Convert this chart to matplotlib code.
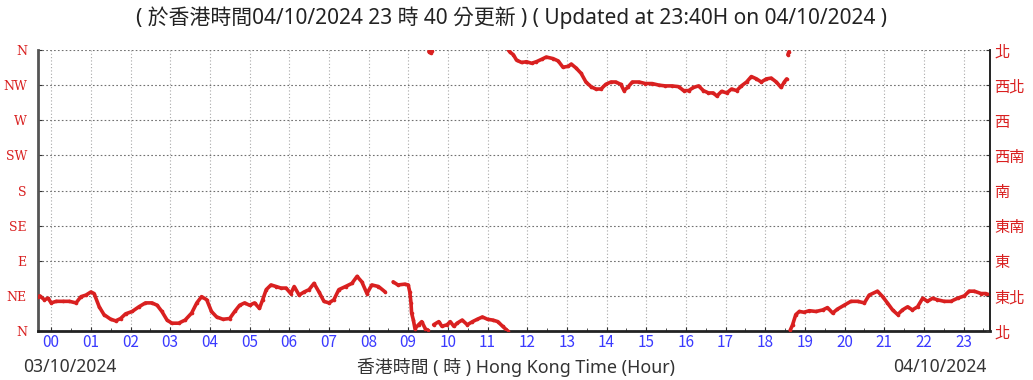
import numpy as np
import matplotlib.pyplot as plt

plt.rcParams['font.family'] = ['Noto Sans', 'Noto Sans CJK TC', 'DejaVu Sans']

# wind direction (deg), time in hours from 00:00 04/10/2024
hours_night = [-0.33, -0.29, -0.17, -0.08, 0.0, 0.125, 0.29, 0.46, 0.625, 0.75,
               0.875, 1.0, 1.08, 1.21, 1.33, 1.5, 1.625, 1.75, 1.875, 2.04,
               2.21, 2.375, 2.54, 2.67, 2.79, 2.92, 3.04, 3.21, 3.375, 3.54,
               3.67, 3.79, 3.92, 4.04, 4.17, 4.33, 4.5, 4.625, 4.75, 4.875,
               5.0, 5.125, 5.25, 5.33, 5.42, 5.54, 5.67, 5.79, 5.92, 6.04,
               6.125, 6.25, 6.375, 6.5, 6.625, 6.75, 6.875, 7.0, 7.125, 7.25,
               7.42, 7.58, 7.71, 7.83, 7.96, 8.08, 8.25, 8.42, 8.5]
dir_night = [44, 45, 40, 42, 36, 38, 38, 38, 36, 44,
             46, 50, 48, 31, 21, 15, 13, 16, 22, 25,
             31, 36, 36, 33, 25, 14, 10, 10, 14, 23,
             36, 44, 40, 25, 18, 15, 16, 25, 33, 36,
             33, 36, 29, 40, 53, 59, 57, 55, 55, 48,
             57, 46, 50, 53, 61, 50, 38, 36, 40, 53,
             57, 61, 70, 63, 48, 59, 57, 50, np.nan]

hours_morning = [8.62, 8.74, 8.91, 9.0, 9.04, 9.07, 9.085, 9.13, 9.17, 9.26,
                 9.34, 9.43, 9.49, 9.52, 9.57, 9.6, 9.64, 9.77, 9.85, 9.98,
                 10.06, 10.15, 10.23, 10.36, 10.49, 10.62, 10.74, 10.87, 11.0, 11.13,
                 11.26, 11.38, 11.51]
dir_morning = [63, 59, 60, 59, 50, 36, 23, 14, 3, 8,
               12, 3, 1, 358, 356, 359, 8, 12, 6, 8,
               12, 6, 10, 14, 8, 12, 15, 18, 15, 14,
               12, 6, 0]

hours_day = [11.53, 11.57, 11.65, 11.73, 11.86, 11.98, 12.11, 12.23, 12.36, 12.48,
             12.65, 12.78, 12.9, 13.03, 13.11, 13.23, 13.36, 13.48, 13.61, 13.73,
             13.86, 13.98, 14.11, 14.23, 14.36, 14.44, 14.53, 14.65, 14.82, 14.98,
             15.15, 15.32, 15.48, 15.65, 15.82, 15.94, 16.07, 16.19, 16.32, 16.44,
             16.57, 16.69, 16.78, 16.9, 17.03, 17.15, 17.28, 17.4, 17.53, 17.65,
             17.78, 17.9, 18.03, 18.15, 18.28, 18.4, 18.48, 18.54, 18.57, 18.6]
dir_day = [359.5, 357, 354, 347, 344, 345, 343, 345, 348, 351,
           349, 346, 338, 339, 342, 337, 330, 319, 313, 310,
           310, 316, 319, 319, 316, 308, 312, 319, 319, 317,
           317, 315, 314, 314, 313, 308, 308, 312, 314, 308,
           305, 305, 301, 307, 305, 310, 308, 314, 319, 326,
           323, 319, 323, 324, 319, 312, 319, 323, 354, 358]

hours_evening = [18.63, 18.69, 18.77, 18.86, 18.98, 19.11, 19.28, 19.45, 19.57, 19.7,
                 19.82, 19.99, 20.16, 20.33, 20.5, 20.62, 20.83, 20.96, 21.08, 21.21,
                 21.34, 21.46, 21.59, 21.71, 21.84, 21.97, 22.09, 22.22, 22.34, 22.51,
                 22.68, 22.85, 23.02, 23.14, 23.27, 23.44, 23.56, 23.67]
dir_evening = [1, 8, 21, 25, 24, 26, 25, 27, 30, 23,
               28, 33, 38, 38, 36, 46, 51, 44, 36, 27,
               21, 27, 31, 27, 31, 42, 38, 42, 40, 38,
               38, 42, 45, 51, 51, 48, 48, 46]

dir_labels_en = ['N', 'NE', 'E', 'SE', 'S', 'SW', 'W', 'NW', 'N']
dir_labels_zh = ['北', '東北', '東', '東南', '南', '西南', '西', '西北', '北']
hour_labels = ['%02d' % h for h in range(24)]

t = np.array(hours_night + hours_morning + hours_day + hours_evening, dtype=float)
d = np.array(dir_night + dir_morning + dir_day + dir_evening, dtype=float)

# samples are plotted as dots; only join neighbours that are close in direction
brk = np.where(np.abs(np.diff(d)) > 25)[0] + 1
t = np.insert(t, brk, np.nan)
d = np.insert(d, brk, np.nan)

red = '#d92020'
blue = '#3a3aff'

fig = plt.figure(figsize=(10.33, 3.8), dpi=100)
ax = fig.add_axes([38 / 1033, 1 - 331 / 380, (990 - 38) / 1033, 281 / 380])
ax.plot(t, d, color=red, lw=2.6, marker='o', ms=2.6, mew=0,
        solid_capstyle='round', solid_joinstyle='round', zorder=3)

ax.set_xlim(-1 / 3, 23 + 2 / 3)
ax.set_ylim(0, 360)

ax.set_xticks(range(24))
ax.set_xticklabels(hour_labels, color=blue, fontsize=11, family='Noto Sans CJK TC')
ax.set_xticks(np.arange(0.5, 23.6, 1), minor=True)
ax.set_yticks(range(0, 361, 45))
ax.set_yticklabels(dir_labels_en, color=red, fontsize=9, family='DejaVu Serif')

ax.yaxis.grid(True, ls=(0, (1.5, 2)), color='#707070', lw=0.8)
ax.xaxis.grid(True, ls=(0, (1, 2)), color='#a8a8a8', lw=0.8)

ax.tick_params(axis='x', which='major', direction='in', length=3, pad=2, color='#333333')
ax.tick_params(axis='x', which='minor', direction='in', length=2, color='#333333')
ax.tick_params(axis='y', direction='in', length=3, pad=8, color='#333333')

ax.spines['top'].set_visible(False)
ax.spines['left'].set_color('#555555')
ax.spines['left'].set_linewidth(2)
ax.spines['bottom'].set_color('#222222')
ax.spines['bottom'].set_linewidth(2)
ax.spines['right'].set_color('#222222')
ax.spines['right'].set_linewidth(1.2)

ax2 = ax.twinx()
ax2.set_ylim(0, 360)
ax2.set_yticks(range(0, 361, 45))
ax2.set_yticklabels(dir_labels_zh, color=red, fontsize=11, family='Noto Sans CJK TC')
ax2.tick_params(axis='y', direction='in', length=3, pad=3, color='#333333')
for side in ['top', 'left', 'bottom']:
    ax2.spines[side].set_visible(False)
ax2.spines['right'].set_color('#222222')
ax2.spines['right'].set_linewidth(1.2)

fig.text(0.495, 1 - 18 / 380,
         '( 於香港時間04/10/2024 23 時 40 分更新 ) ( Updated at 23:40H on 04/10/2024 )',
         ha='center', va='center', fontsize=15, color='#222222')
fig.text(23 / 1033, 1 - 367 / 380, '03/10/2024', ha='left', va='center',
         fontsize=12.6, color='#333333')
fig.text(516 / 1033, 1 - 367 / 380, '香港時間 ( 時 ) Hong Kong Time (Hour)',
         ha='center', va='center', fontsize=12.9, color='#333333')
fig.text(987 / 1033, 1 - 367 / 380, '04/10/2024', ha='right', va='center',
         fontsize=12.6, color='#333333')

fig.savefig('out.png', dpi=100)
